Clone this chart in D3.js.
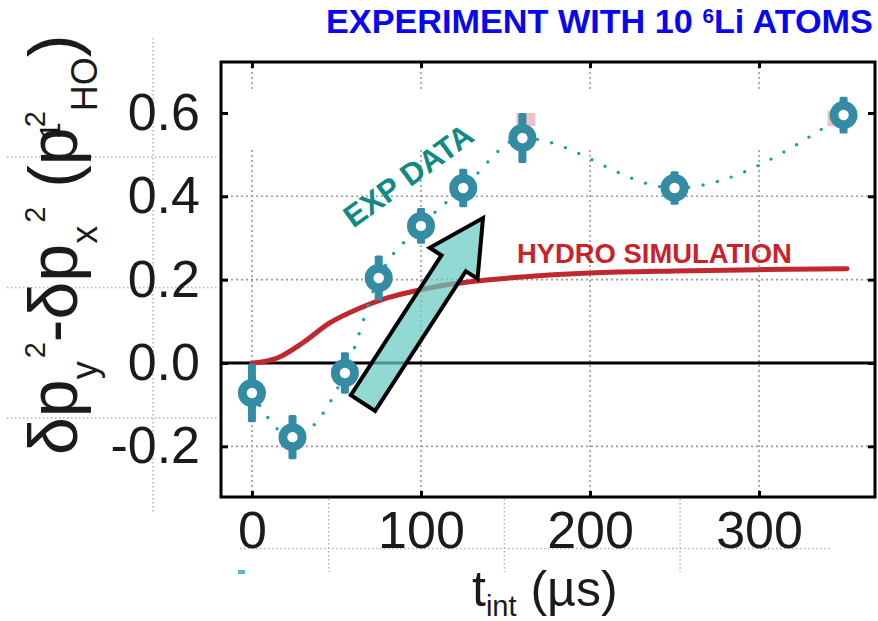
<!DOCTYPE html>
<html>
<head>
<meta charset="utf-8">
<script src="https://cdn.jsdelivr.net/npm/d3@7"></script>
<style>
  html, body { margin: 0; padding: 0; background: #fff; }
  svg { display: block; font-family: "Liberation Sans", Arial, Helvetica, sans-serif; }
</style>
</head>
<body>
<svg id="chart" width="878" height="621"></svg>
<script>
// Measured momentum-width anisotropy vs interaction time
const tInt = [0, 24, 55, 75, 100, 125, 160, 250, 350];
const anisotropy = [-0.072, -0.178, -0.024, 0.204, 0.329, 0.42, 0.54, 0.42, 0.595];
const anisotropyErr = [0.07, 0.053, 0.05, 0.054, 0.043, 0.046, 0.06, 0.04, 0.044];

// Hydrodynamic simulation curve
const simT = [0, 5, 15, 30, 46, 64, 80, 99, 119, 139, 176, 200, 250, 300, 352];
const simV = [0, 0.002, 0.012, 0.048, 0.096, 0.132, 0.156, 0.175, 0.19, 0.199, 0.211, 0.216, 0.221, 0.224, 0.226];

// Axis ticks
const xTicks = [0, 100, 200, 300];
const yTicks = [-0.2, 0, 0.2, 0.4, 0.6];
const yGridTicks = [-0.2, 0.2, 0.4];

const svg = d3.select("#chart");
const frame = { l: 221, r: 875, t: 62, b: 497 };

const x = d3.scaleLinear().domain([-18.3, 368.6]).range([frame.l, frame.r]);
const y = d3.scaleLinear().domain([-0.3216, 0.7223]).range([frame.b, frame.t]);

// ---- faint grid of the surrounding panel, visible outside the frame ----
const outer = svg.append("g")
  .attr("stroke", "#b4b4b4").attr("stroke-width", 1.5)
  .attr("stroke-dasharray", "1.5 2.5").attr("fill", "none");
const outerStepX = 175.7, outerStepY = 130.5;
[0, 1, 2].forEach(i => {
  const gy = 157 + i * outerStepY;
  outer.append("line").attr("x1", 7).attr("x2", frame.l - 2).attr("y1", gy).attr("y2", gy);
});
outer.append("line").attr("x1", 153).attr("x2", 153).attr("y1", 38).attr("y2", 513);
outer.append("line").attr("x1", 240).attr("x2", 831)
  .attr("y1", 157 + 3 * outerStepY).attr("y2", 157 + 3 * outerStepY);
[1, 2, 3].forEach(i => {
  const gx = 153 + i * outerStepX;
  outer.append("line").attr("x1", gx).attr("x2", gx).attr("y1", frame.b + 2).attr("y2", 572);
});
svg.append("rect").attr("x", 238).attr("y", 570).attr("width", 7).attr("height", 4)
  .attr("fill", "#5fb3cf");

// ---- inner dotted grid ----
const grid = svg.append("g")
  .attr("stroke", "#9a9a9a").attr("stroke-width", 1.6)
  .attr("stroke-dasharray", "2 3").attr("fill", "none");
xTicks.forEach(t => {
  grid.append("line").attr("x1", x(t)).attr("x2", x(t)).attr("y1", frame.t).attr("y2", y(0.655));
  grid.append("line").attr("x1", x(t)).attr("x2", x(t)).attr("y1", y(0.511)).attr("y2", frame.b);
});
yGridTicks.forEach(v => {
  grid.append("line").attr("x1", frame.l).attr("x2", frame.r).attr("y1", y(v)).attr("y2", y(v));
});

// ---- zero line ----
svg.append("line")
  .attr("x1", frame.l).attr("x2", frame.r).attr("y1", y(0)).attr("y2", y(0))
  .attr("stroke", "#000").attr("stroke-width", 3);

// ---- axes (ticks on all four sides) ----
function styleAxis(g) {
  g.select(".domain").remove();
  g.selectAll(".tick line").attr("stroke", "#000").attr("stroke-width", 3);
  g.selectAll(".tick text")
    .attr("fill", "#1b1b1b")
    .style("font-size", "52px")
    .style("font-family", '"Liberation Sans", Arial, sans-serif');
}
const fmt = d => d.toFixed(1);

svg.append("g").attr("transform", `translate(${frame.l},0)`)
  .call(d3.axisLeft(y).tickValues(yTicks).tickSizeInner(-7).tickSizeOuter(0).tickPadding(21).tickFormat(fmt))
  .call(styleAxis);
svg.append("g").attr("transform", `translate(${frame.r},0)`)
  .call(d3.axisRight(y).tickValues(yTicks).tickSizeInner(-7).tickSizeOuter(0).tickFormat(""))
  .call(styleAxis);
svg.append("g").attr("transform", `translate(0,${frame.b})`)
  .call(d3.axisBottom(x).tickValues(xTicks).tickSizeInner(-6).tickSizeOuter(0).tickPadding(14).tickFormat(d3.format("d")))
  .call(styleAxis);
svg.append("g").attr("transform", `translate(0,${frame.t})`)
  .call(d3.axisTop(x).tickValues(xTicks).tickSizeInner(-6).tickSizeOuter(0).tickFormat(""))
  .call(styleAxis);

// ---- frame ----
svg.append("rect")
  .attr("x", frame.l).attr("y", frame.t)
  .attr("width", frame.r - frame.l).attr("height", frame.b - frame.t)
  .attr("fill", "none").attr("stroke", "#000").attr("stroke-width", 3);

// ---- hydro simulation curve ----
const simData = simT.map((t, i) => [t, simV[i]]);
svg.append("path")
  .datum(simData)
  .attr("fill", "none")
  .attr("stroke", "#c1272f")
  .attr("stroke-width", 5)
  .attr("stroke-linecap", "round")
  .attr("d", d3.line().x(d => x(d[0])).y(d => y(d[1])).curve(d3.curveMonotoneX));

// ---- experimental data: dotted guide, error bars, ring markers ----
const expData = tInt.map((t, i) => ({ t, v: anisotropy[i], e: anisotropyErr[i] }));

svg.append("path")
  .datum(expData)
  .attr("fill", "none")
  .attr("stroke", "#18a3a1")
  .attr("stroke-width", 3.4)
  .attr("stroke-linecap", "round")
  .attr("stroke-dasharray", "0 14.6")
  .attr("d", d3.line().x(d => x(d.t)).y(d => y(d.v)).curve(d3.curveMonotoneX));

// faint pink remnants behind two of the markers
[[6, -6, -25, 19, 13], [8, -16, -4, 12, 15]].forEach(([i, dx, dy, w, h]) => {
  svg.append("rect")
    .attr("x", x(tInt[i]) + dx).attr("y", y(anisotropy[i]) + dy)
    .attr("width", w).attr("height", h)
    .attr("fill", "#eab0b6").attr("opacity", 0.8);
});

const pts = svg.append("g").attr("fill", "#338ca4");
pts.selectAll("rect.err")
  .data(expData).join("rect")
  .attr("class", "err")
  .attr("x", d => x(d.t) - 4)
  .attr("y", d => y(d.v + d.e))
  .attr("width", 8)
  .attr("height", d => y(d.v - d.e) - y(d.v + d.e))
  .attr("rx", 1.5);
pts.selectAll("circle.ring")
  .data(expData).join("circle")
  .attr("class", "ring")
  .attr("cx", d => x(d.t))
  .attr("cy", d => y(d.v))
  .attr("r", 9.6)
  .attr("fill", "#fff")
  .attr("stroke", "#338ca4")
  .attr("stroke-width", 8.8);

// ---- trend arrow ----
const arrowFrom = [65.7, -0.096], arrowTo = [136.7, 0.348];
(function drawArrow() {
  const x0 = x(arrowFrom[0]), y0 = y(arrowFrom[1]);
  const x1 = x(arrowTo[0]), y1 = y(arrowTo[1]);
  const len = Math.hypot(x1 - x0, y1 - y0);
  const ux = (x1 - x0) / len, uy = (y1 - y0) / len;
  const px = -uy, py = ux;
  const shaftW = 14.5, headW = 28.5, headL = 54;
  const bx = x1 - ux * headL, by = y1 - uy * headL;
  const P = (cx, cy, s) => [cx + px * s, cy + py * s];
  const poly = [
    P(x0, y0, shaftW), P(bx, by, shaftW), P(bx, by, headW), [x1, y1],
    P(bx, by, -headW), P(bx, by, -shaftW), P(x0, y0, -shaftW)
  ];
  svg.append("polygon")
    .attr("points", poly.map(p => p.join(",")).join(" "))
    .attr("fill", "#66cbc0")
    .attr("fill-opacity", 0.72)
    .attr("stroke", "#000")
    .attr("stroke-width", 4)
    .attr("stroke-linejoin", "miter");
})();

// ---- annotations ----
function fitWidth(sel, width) {
  const w = sel.node().getBBox().width;
  return w > 0 ? width / w : 1;
}

svg.append("text")
  .attr("transform", `translate(${x(60)},${y(0.322)}) rotate(-36)`)
  .attr("fill", "#108a85")
  .style("font-size", "31px")
  .style("font-weight", "bold")
  .text("EXP DATA");

const hydro = svg.append("text")
  .attr("fill", "#c8222b")
  .style("font-size", "27px")
  .style("font-weight", "bold")
  .text("HYDRO SIMULATION");
hydro.attr("transform", `translate(517,263) scale(${fitWidth(hydro, 275)},1)`);

const title = svg.append("text")
  .attr("fill", "#0707f2")
  .style("font-size", "33px")
  .style("font-weight", "bold");
title.append("tspan").text("EXPERIMENT WITH 10 ");
title.append("tspan").style("font-size", "20px").attr("dy", -10).text("6");
title.append("tspan").attr("dy", 10).text("Li ATOMS");
title.attr("transform", `translate(326,33) scale(${fitWidth(title, 547)},1)`);

// ---- axis titles ----
const xt = svg.append("text")
  .attr("x", 472).attr("y", 606)
  .attr("fill", "#1b1b1b")
  .style("font-size", "50px");
xt.append("tspan").text("t");
xt.append("tspan").style("font-size", "29px").attr("dy", 10).text("int");
xt.append("tspan").attr("dy", -10).text(" (µs)");

const yt = svg.append("text")
  .attr("transform", "translate(77,455) rotate(-90)")
  .attr("fill", "#1b1b1b")
  .style("font-size", "68px");
yt.append("tspan").text("δp");
yt.append("tspan").style("font-size", "36px").attr("dy", 20).text("y");
yt.append("tspan").style("font-size", "29px").attr("dy", -52).attr("dx", 3).text("2");
yt.append("tspan").attr("dy", 32).text("-δp");
yt.append("tspan").style("font-size", "36px").attr("dy", 20).text("x");
yt.append("tspan").style("font-size", "29px").attr("dy", -52).attr("dx", 3).text("2");
yt.append("tspan").attr("dy", 32).text(" (p");
yt.append("tspan").style("font-size", "29px").attr("dy", -32).text("2");
yt.append("tspan").style("font-size", "36px").attr("dy", 52).text("HO");
yt.append("tspan").attr("dy", -20).text(")");

// stray "1" glyph overlapping the unit's exponent
svg.append("text")
  .attr("transform", "translate(60,139) rotate(-90)")
  .attr("fill", "#111")
  .style("font-size", "30px")
  .text("1");
</script>
</body>
</html>
